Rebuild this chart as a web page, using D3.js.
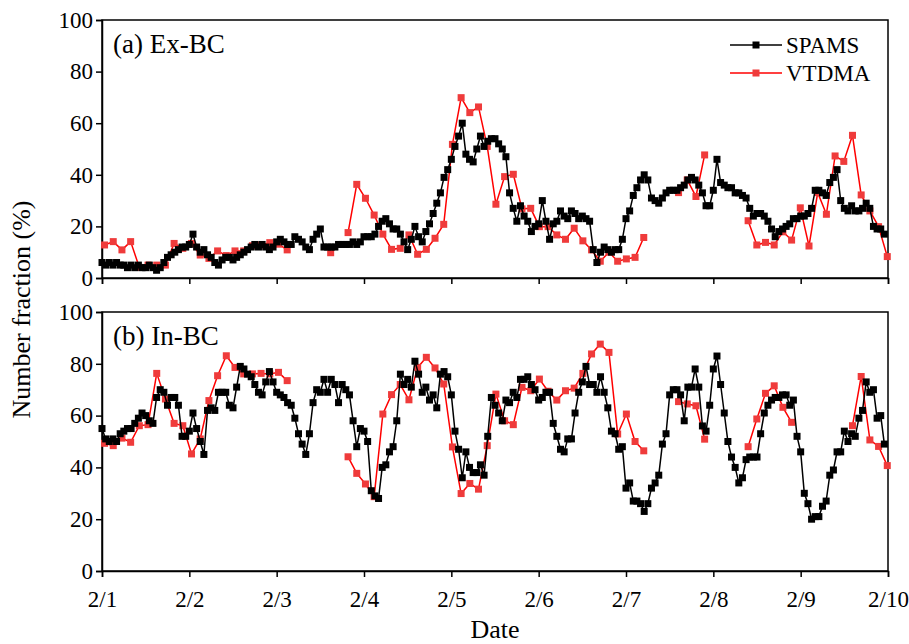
<!DOCTYPE html>
<html>
<head>
<meta charset="utf-8">
<script src="https://cdn.jsdelivr.net/npm/d3@7"></script>
<style>
  body { margin: 0; background: #fff; }
  text { font-family: "Liberation Serif", "Times New Roman", serif; fill: #000; }
</style>
</head>
<body>
<div id="chart"></div>
<script>
// Tick labels
const dateLabels = ['2/1', '2/2', '2/3', '2/4', '2/5', '2/6', '2/7', '2/8', '2/9', '2/10'];
const yTicks = [0, 20, 40, 60, 80, 100];

// SPAMS: hourly values starting 2/1 00:00
const spamsExBC = [
  6, 5, 6, 5, 6, 5, 5, 4, 5, 4,
  5, 4, 4, 5, 4, 3, 4, 6, 8, 9,
  10, 11, 12, 12, 13, 17, 12, 10, 11, 9,
  8, 6, 5, 7, 8, 8, 7, 8, 9, 10,
  11, 12, 13, 12, 13, 12, 11, 12, 14, 15,
  14, 13, 13, 16, 15, 14, 12, 11, 15, 17,
  19, 12, 12, 12, 12, 13, 13, 13, 13, 14,
  13, 14, 16, 16, 16, 17, 20, 22, 23, 21,
  19, 19, 17, 14, 11, 15, 20, 16, 14, 18,
  21, 25, 29, 33, 39, 42, 46, 51, 55, 60,
  48, 46, 45, 50, 55, 51, 53, 54, 54, 52,
  50, 47, 33, 27, 22, 28, 24, 22, 18, 20,
  21, 30, 22, 15, 21, 22, 26, 24, 23, 26,
  25, 23, 24, 23, 22, 11, 6, 10, 12, 11,
  10, 11, 11, 15, 23, 26, 32, 35, 38, 40,
  38, 31, 30, 29, 31, 33, 34, 34, 34, 35,
  36, 38, 39, 38, 36, 33, 28, 28, 34, 46,
  37, 36, 35, 35, 33, 33, 32, 31, 27, 24,
  25, 25, 24, 22, 19, 16, 18, 19, 20, 21,
  23, 23, 24, 24, 25, 27, 34, 34, 33, 32,
  37, 39, 42, 30, 27, 26, 28, 26, 26, 27,
  29, 27, 20, 19, 19, 17
];
const spamsInBC = [
  55, 51, 50, 51, 50, 53, 54, 55, 55, 57,
  59, 61, 60, 58, 57, 67, 70, 69, 64, 67,
  67, 64, 52, 52, 54, 61, 55, 50, 45, 62,
  63, 62, 69, 69, 69, 64, 63, 71, 79, 78,
  76, 75, 72, 69, 68, 73, 77, 73, 69, 68,
  67, 65, 64, 59, 53, 49, 45, 53, 65, 70,
  69, 74, 69, 74, 72, 65, 72, 70, 68, 58,
  48, 55, 54, 50, 31, 29, 28, 40, 41, 46,
  48, 58, 76, 72, 74, 71, 81, 76, 69, 71,
  66, 68, 63, 76, 77, 75, 68, 54, 47, 36,
  46, 40, 38, 38, 41, 37, 52, 67, 64, 61,
  58, 66, 65, 69, 67, 74, 74, 75, 72, 70,
  66, 67, 69, 69, 57, 52, 47, 46, 51, 51,
  61, 69, 73, 79, 72, 72, 69, 75, 69, 63,
  54, 53, 47, 48, 32, 34, 27, 27, 26, 23,
  26, 32, 34, 37, 49, 53, 68, 70, 70, 68,
  58, 71, 71, 78, 71, 56, 54, 64, 78, 83,
  72, 61, 50, 44, 40, 34, 36, 43, 44, 44,
  44, 53, 61, 64, 66, 67, 67, 68, 68, 64,
  66, 52, 46, 30, 26, 20, 21, 21, 25, 27,
  37, 39, 46, 46, 54, 50, 53, 52, 59, 62,
  73, 69, 70, 59, 60, 49
];
const spamsStep = 1; // hours

// VTDMA: one scan every ~2.4 h, null = no measurement
const vtdmaStart = 0.7, vtdmaStep = 2.39; // hours
const vtdmaExBC = [
  12.8, 14.1, 10.9, 14.1, 4.1, 5.0, 5.0, 5.0, 13.4, 11.5,
  13.4, 8.9, 7.6, 10.5, 8.7, 10.5, 10.5, 12.5, 12.8, 13.7,
  13.1, 10.9, null, null, null, null, 9.8, null, 17.6, 36.3,
  30.9, 24.4, 17.0, 11.1, 11.5, 16.7, 9.2, 11.1, 15.4, 20.8,
  51.8, 69.9, 64.1, 66.3, 51.0, 28.6, 39.3, 40.2, 26.8, 27.0,
  19.9, 19.9, 16.7, 15.0, 19.3, 14.4, 10.9, 6.5, 10.0, 6.5,
  7.4, 8.0, 15.7, null, null, null, 33.1, 38.0, 31.6, 47.7,
  null, null, null, null, 22.2, 12.8, 13.8, 12.8, 17.9, 14.7,
  27.2, 12.4, 33.1, 24.7, 47.3, 45.2, 55.3, 32.2, 26.0, 19.9,
  8.3
];
const vtdmaInBC = [
  49.3, 48.4, 51.3, 49.7, 56.1, 56.5, 76.3, 66.4, 57.0, 56.1,
  45.2, 51.0, 65.8, 75.4, 83.1, 78.6, 76.1, 76.1, 76.3, 76.1,
  76.7, 73.5, null, null, null, null, null, null, 44.1, 37.7,
  33.6, 28.7, 60.6, 68.1, 72.0, 66.1, 78.6, 82.5, 78.4, 72.2,
  47.9, 29.9, 33.8, 31.6, 48.4, 68.3, 58.0, 56.5, 70.9, 69.6,
  74.1, 69.4, 66.0, 69.6, 70.6, 76.3, 83.8, 87.6, 84.4, 52.9,
  60.6, 50.0, 46.4, null, null, null, 65.4, 64.5, 63.8, 50.9,
  null, null, null, null, 48.0, 58.7, 68.6, 71.5, 63.2, 57.4,
  null, null, null, null, null, null, 56.1, 75.1, 50.6, 48.1,
  40.7
];

const width = 909, height = 644;
const left = 102, right = 888;
const panels = [
  { label: '(a) Ex-BC', spams: spamsExBC, vtdma: vtdmaExBC, top: 20, bottom: 278, showDates: false, legend: true },
  { label: '(b) In-BC', spams: spamsInBC, vtdma: vtdmaInBC, top: 312, bottom: 571, showDates: true, legend: false }
];

const black = '#000', red = '#ff0000', redFill = '#ef3b3b';
const markerSize = 7;

const svg = d3.select('#chart').append('svg')
  .attr('width', width)
  .attr('height', height);

const x = d3.scaleLinear().domain([0, 216]).range([left, right]);

function toPoints(values, start, step) {
  return values.map((v, i) => ({ t: start + i * step, v: v }));
}

panels.forEach(p => {
  const y = d3.scaleLinear().domain([0, 100]).range([p.bottom, p.top]);
  const g = svg.append('g');

  // x axis
  const xAxis = d3.axisBottom(x)
    .tickValues(d3.range(0, 217, 24))
    .tickSize(6)
    .tickPadding(14)
    .tickFormat((d, i) => p.showDates ? dateLabels[i] : '');
  const xg = g.append('g')
    .attr('transform', `translate(0,${p.bottom})`)
    .call(xAxis);
  xg.selectAll('text').style('font-size', '23px');

  // y axis
  const yAxis = d3.axisLeft(y)
    .tickValues(yTicks)
    .tickSize(6)
    .tickPadding(3)
    .tickFormat(d3.format('d'));
  const yg = g.append('g')
    .attr('transform', `translate(${left},0)`)
    .call(yAxis);
  yg.selectAll('text').style('font-size', '23px');

  g.selectAll('.domain').attr('stroke-width', 1.5);
  g.selectAll('.tick line').attr('stroke-width', 1.5);

  // frame
  g.append('rect')
    .attr('x', left).attr('y', p.top)
    .attr('width', right - left).attr('height', p.bottom - p.top)
    .attr('fill', 'none').attr('stroke', black).attr('stroke-width', 1.5);

  const line = d3.line()
    .defined(d => d.v != null)
    .x(d => x(d.t))
    .y(d => y(d.v));

  const series = [
    { pts: toPoints(p.vtdma, vtdmaStart, vtdmaStep), stroke: red, fill: redFill },
    { pts: toPoints(p.spams, 0, spamsStep), stroke: black, fill: black }
  ];

  series.forEach(s => {
    g.append('path')
      .datum(s.pts)
      .attr('fill', 'none')
      .attr('stroke', s.stroke)
      .attr('stroke-width', 1.5)
      .attr('d', line);
    g.append('g')
      .selectAll('rect')
      .data(s.pts.filter(d => d.v != null))
      .enter()
      .append('rect')
      .attr('x', d => x(d.t) - markerSize / 2)
      .attr('y', d => y(d.v) - markerSize / 2)
      .attr('width', markerSize)
      .attr('height', markerSize)
      .attr('fill', s.fill);
  });

  // panel label
  g.append('text')
    .attr('x', left + 11)
    .attr('y', p.top + 33)
    .style('font-size', '27px')
    .text(p.label);

  if (p.legend) {
    const items = [
      { name: 'SPAMS', stroke: black, fill: black },
      { name: 'VTDMA', stroke: red, fill: redFill }
    ];
    const lg = g.append('g');
    items.forEach((it, i) => {
      const ly = p.top + 25 + i * 28;
      lg.append('line')
        .attr('x1', 730).attr('x2', 782)
        .attr('y1', ly).attr('y2', ly)
        .attr('stroke', it.stroke).attr('stroke-width', 1.5);
      lg.append('rect')
        .attr('x', 756 - markerSize / 2).attr('y', ly - markerSize / 2)
        .attr('width', markerSize).attr('height', markerSize)
        .attr('fill', it.fill);
      lg.append('text')
        .attr('x', 786).attr('y', ly + 8)
        .style('font-size', '23px')
        .text(it.name);
    });
  }
});

// axis titles
svg.append('text')
  .attr('transform', `translate(30,${(20 + 571) / 2 + 14}) rotate(-90)`)
  .attr('text-anchor', 'middle')
  .style('font-size', '26px')
  .text('Number fraction (%)');

svg.append('text')
  .attr('x', (left + right) / 2)
  .attr('y', 638)
  .attr('text-anchor', 'middle')
  .style('font-size', '26px')
  .text('Date');
</script>
</body>
</html>
